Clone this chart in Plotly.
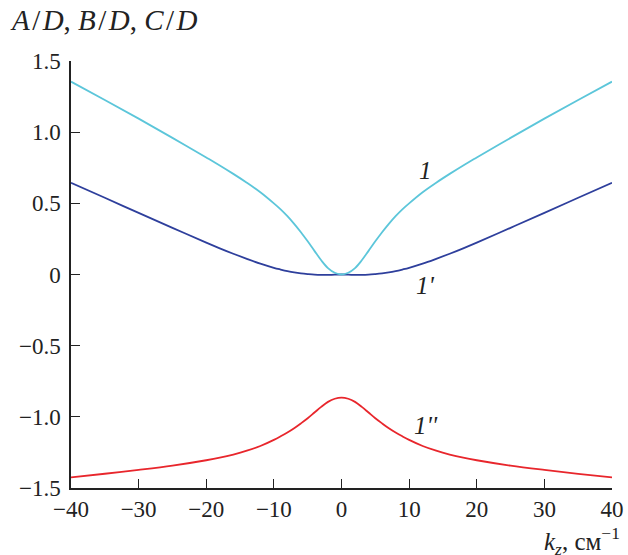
import plotly.graph_objects as go

# k_z values (cm^-1), half axis; curves are symmetric about k_z = 0
k_half = [0, 1, 2, 3, 4, 5, 6, 7, 8, 9, 10, 12, 14, 16, 18, 20, 25, 30, 35, 40]
curve_1 = [0, 0.012, 0.045, 0.10, 0.166, 0.233, 0.297, 0.356, 0.41, 0.458, 0.50,
           0.578, 0.645, 0.707, 0.766, 0.822, 0.96, 1.095, 1.226, 1.355]
curve_1p = [0, -0.001, -0.003, -0.003, -0.001, 0.003, 0.008, 0.015, 0.024, 0.035, 0.047,
            0.076, 0.11, 0.146, 0.184, 0.224, 0.328, 0.433, 0.539, 0.645]
curve_1pp = [-0.865, -0.873, -0.895, -0.93, -0.97, -1.01, -1.046, -1.08, -1.11, -1.137, -1.162,
             -1.205, -1.238, -1.265, -1.287, -1.305, -1.343, -1.373, -1.40, -1.425]

x_ticks = [-40, -30, -20, -10, 0, 10, 20, 30, 40]
x_ticktext = ["−40", "−30", "−20", "−10", "0", "10", "20", "30", "40"]
y_ticks = [-1.5, -1.0, -0.5, 0, 0.5, 1.0, 1.5]
y_ticktext = ["−1.5", "−1.0", "−0.5", "0", "0.5", "1.0", "1.5"]

def mirror(xs, ys):
    xx = [-v for v in reversed(xs[1:])] + xs
    yy = list(reversed(ys[1:])) + ys
    return xx, yy

fig = go.Figure()
for ys, color in [(curve_1pp, "#E8262C"), (curve_1p, "#2E3F9C"), (curve_1, "#5CC6DA")]:
    xx, yy = mirror(k_half, ys)
    fig.add_trace(go.Scatter(x=xx, y=yy, mode="lines",
                             line=dict(color=color, width=1.8, shape="spline", smoothing=1.0),
                             showlegend=False, hoverinfo="skip"))

font = "Liberation Serif, Times New Roman, serif"
labels = [("1", 12.4, 0.731), ("1'", 12.4, -0.074), ("1''", 12.5, -1.061)]
for t, x, y in labels:
    fig.add_annotation(x=x, y=y, text="<i>" + t + "</i>", showarrow=False,
                       font=dict(family=font, size=25, color="#222"))

hs = "\u200a"
fig.add_annotation(xref="paper", yref="paper", x=-0.1165, y=1.054, xanchor="left", yanchor="bottom",
                   text=f"<i>A</i>{hs}/{hs}<i>D</i>, <i>B</i>{hs}/{hs}<i>D</i>, <i>C</i>{hs}/{hs}<i>D</i>",
                   showarrow=False, font=dict(family=font, size=29, color="#222"))
fig.add_annotation(xref="paper", yref="paper", x=1.019, y=-0.078, xanchor="right", yanchor="top",
                   text="<i>k<sub>z</sub></i>, см<sup>−1</sup>", showarrow=False,
                   font=dict(family=font, size=25, color="#222"))

fig.update_xaxes(range=[-40, 40], tickvals=x_ticks, ticktext=x_ticktext,
                 showline=True, linecolor="#222", linewidth=1.5, ticks="inside", ticklen=9,
                 tickcolor="#222", tickwidth=1.3, showgrid=False, zeroline=False,
                 tickfont=dict(family=font, size=23, color="#222"))
fig.update_yaxes(range=[-1.5, 1.5], tickvals=y_ticks, ticktext=y_ticktext,
                 showline=True, linecolor="#222", linewidth=1.5, ticks="inside", ticklen=9,
                 tickcolor="#222", tickwidth=1.3, showgrid=False, zeroline=False,
                 ticklabelstandoff=4,
                 tickfont=dict(family=font, size=23, color="#222"))
fig.update_layout(width=628, height=555, margin=dict(l=71, r=16, t=61, b=67, autoexpand=False),
                  plot_bgcolor="white", paper_bgcolor="white")
fig.write_html("out.html", config={"displayModeBar": False},
               post_script="document.body.style.margin='0';")
